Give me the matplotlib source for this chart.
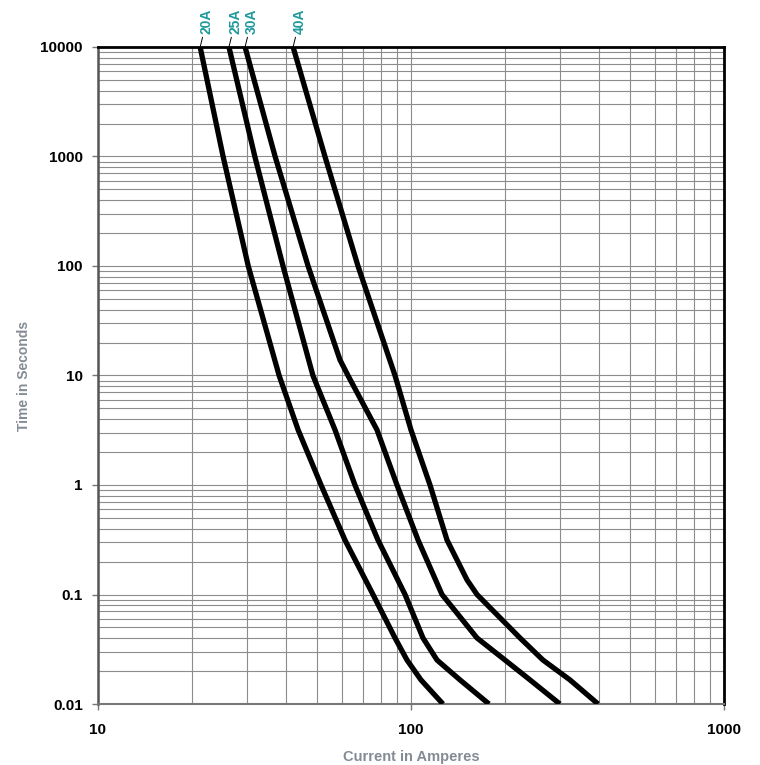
import matplotlib
matplotlib.use("Agg")
import matplotlib.pyplot as plt
from matplotlib.ticker import FixedLocator, FixedFormatter, LogLocator, NullFormatter

plt.rcParams['font.family'] = ['Liberation Sans', 'DejaVu Sans']

# ---- data ----
labels = ["20A", "25A", "30A", "40A"]

amps_20 = [21.2, 25.1, 30.2, 37.9, 43.6, 51.6, 61.5, 75.6, 88.9, 97.1, 107.6, 126.5]
time_20 = [10000, 1000, 100, 10, 3.18, 1, 0.315, 0.1, 0.0401, 0.0252, 0.0166, 0.01]

amps_25 = [26.2, 31.7, 39.0, 48.6, 57.2, 66.2, 78.4, 95.7, 109.2, 121.1, 143.4, 177.5]
time_25 = [10000, 1000, 100, 10, 3.18, 1, 0.315, 0.1, 0.0401, 0.0252, 0.0166, 0.01]

amps_30 = [29.5, 36.8, 46.9, 59.3, 62.9, 77.9, 90.2, 105.3, 125.6, 162.5, 199.7, 240.0, 299.0]
time_30 = [10000, 1000, 100, 13.9, 10, 3.18, 1, 0.315, 0.1, 0.0401, 0.0252, 0.0166, 0.01]

amps_40 = [42.0, 53.1, 67.7, 88.9, 100.0, 115.0, 130.3, 151.0, 162.5, 223.0, 264.0, 322.0, 396.0]
time_40 = [10000, 1000, 100, 10, 3.18, 1, 0.315, 0.136, 0.1, 0.0401, 0.0252, 0.0166, 0.01]

series = [(amps_20, time_20), (amps_25, time_25), (amps_30, time_30), (amps_40, time_40)]

y_ticks = [0.01, 0.1, 1, 10, 100, 1000, 10000]
y_tick_labels = ["0.01", "0.1", "1", "10", "100", "1000", "10000"]
x_ticks = [10, 100, 1000]
x_tick_labels = ["10", "100", "1000"]

label_color = "#1f9a9c"
axis_label_color = "#858b94"

fig = plt.figure(figsize=(7.6, 7.65), dpi=100)
ax = fig.add_axes([98 / 760, 1 - 704 / 765, (724 - 98) / 760, (704 - 47) / 765])

ax.set_xscale("log")
ax.set_yscale("log")
ax.set_xlim(10, 1000)
ax.set_ylim(0.01, 10000)

# grid
ax.xaxis.set_minor_locator(LogLocator(base=10, subs=range(2, 10)))
ax.yaxis.set_minor_locator(LogLocator(base=10, subs=range(2, 10), numticks=20))
ax.xaxis.set_minor_formatter(NullFormatter())
ax.yaxis.set_minor_formatter(NullFormatter())
ax.grid(True, which="both", color="#8c8c8c", lw=0.8)
ax.set_axisbelow(True)

for (a, t) in series:
    ax.plot(a, t, color="black", lw=3.8, solid_capstyle="butt", solid_joinstyle="round", zorder=3)

# curve labels with leader lines
for lab, (a, t) in zip(labels, series):
    ax.annotate(lab, xy=(a[0], t[0]), xytext=(4.5, 9.0), textcoords="offset points",
                rotation=90, ha="center", va="bottom", fontsize=10, fontweight="bold",
                color=label_color, annotation_clip=False,
                arrowprops=dict(arrowstyle="-", color="black", lw=0.7, shrinkA=0, shrinkB=0))

ax.yaxis.set_major_locator(FixedLocator(y_ticks))
ax.yaxis.set_major_formatter(FixedFormatter(y_tick_labels))
ax.xaxis.set_major_locator(FixedLocator(x_ticks))
ax.xaxis.set_major_formatter(FixedFormatter(x_tick_labels))
ax.tick_params(which="minor", length=0)
ax.tick_params(which="major", length=4, width=1, color="#777777", labelsize=11, pad=7)
ax.tick_params(axis="x", which="major", pad=10)
for lbl in ax.get_xticklabels() + ax.get_yticklabels():
    lbl.set_fontweight("bold")

for side in ["top", "right"]:
    ax.spines[side].set_color("black")
    ax.spines[side].set_linewidth(2)
ax.spines["left"].set_color("#555555")
ax.spines["left"].set_linewidth(1.8)
ax.spines["bottom"].set_color("#777777")
ax.spines["bottom"].set_linewidth(1.5)

ax.set_xlabel("Current in Amperes", fontsize=10.5, fontweight="bold", color=axis_label_color, labelpad=9)
ax.set_ylabel("Time in Seconds", fontsize=10, fontweight="bold", color=axis_label_color, labelpad=7)

fig.savefig("out.png", dpi=100)
